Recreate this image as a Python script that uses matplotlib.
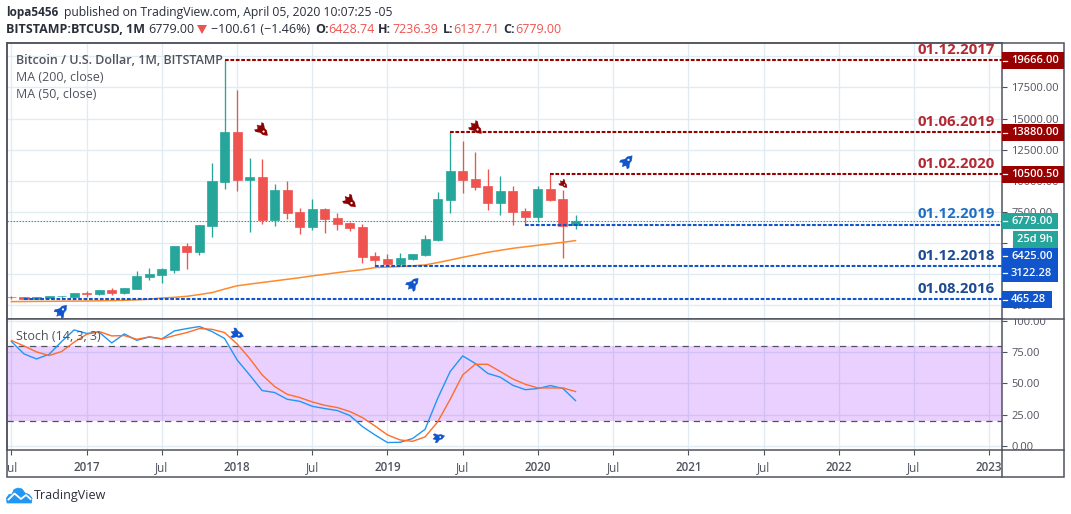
import numpy as np
import matplotlib
matplotlib.use("Agg")
import matplotlib.pyplot as plt
from matplotlib.patches import Rectangle, Polygon, Circle
from matplotlib.transforms import Affine2D, Bbox

plt.rcParams['font.family'] = ['Open Sans', 'DejaVu Sans']

# ---- data (monthly candles, Jul 2016 .. Apr 2020) ----
opens = [660, 640, 510, 610, 700, 640, 965, 870, 1190, 950, 1270, 2250, 2400, 2800, 4730, 4240, 6330, 9870,
         13880, 10030, 10270, 6820, 9230, 7460, 6250, 7700, 6980, 6580, 6250, 3920,
         3680, 3280, 3680, 4000, 5210, 8450, 10760, 10110, 9550, 8180, 9150, 7540,
         7060, 9310, 8500, 6428.74]
highs = [700, 660, 640, 770, 770, 950, 1110, 1190, 1350, 1350, 2720, 2960, 2960, 4730, 4970, 6410, 11400, 19666,
         17270, 11790, 11710, 9710, 9950, 7780, 8500, 7780, 7380, 6650, 6500, 4240,
         4080, 4160, 4080, 5610, 9060, 13880, 13170, 12300, 10920, 10350, 9550, 7780,
         9550, 10500, 9230, 7236.39]
lows = [500, 480, 480, 600, 590, 630, 640, 790, 795, 890, 1270, 1990, 1750, 2560, 2880, 3990, 5450, 9310,
        9150, 5850, 6500, 6330, 6900, 5690, 6010, 5770, 6010, 5930, 3360, 3122,
        3250, 3120, 3600, 3920, 5130, 7400, 9010, 9230, 7620, 7220, 6410, 6425,
        6650, 8340, 3790, 6137.71]
closes = [630, 510, 640, 770, 745, 950, 910, 1190, 950, 1350, 2320, 2470, 2880, 4730, 4245, 6410, 9950, 13880,
          10030, 10270, 6820, 9230, 7380, 6250, 7700, 6900, 6500, 6170, 3840, 3600,
          3280, 3760, 4080, 5290, 8500, 10760, 10060, 9470, 8180, 9150, 7460, 7060,
          9310, 8420, 6330, 6779.00]
ma_line = [280, 290, 297, 305, 314, 322, 330, 346, 362, 386, 426, 474, 571, 627, 708, 852, 1005, 1290,
           1552, 1688, 1817, 1946, 2074, 2203, 2348, 2476, 2613, 2734, 2854, 3015,
           3055, 3103, 3152, 3232, 3417, 3626, 3843, 4044, 4245, 4406, 4567, 4687,
           4808, 4928, 5049, 5186]
stoch_k = [83.5, 73.6, 69.6, 73.3, 83.5, 92.8, 90, 91, 82.4, 89.6, 84.5, 87.2, 85.6, 92, 93.9, 95.5, 91.5, 86,
           68.8, 56.8, 44.3, 42.7, 37.3, 35.7, 31.7, 29.9, 28.3, 24.3, 15.5, 8.8,
           2.7, 2.9, 5.9, 13.3, 38, 59.5, 72, 66, 58, 55, 48.5, 45,
           45.9, 48.3, 45.9, 36.3]
stoch_d = [84.3, 80, 75.2, 72.3, 75.5, 83, 89.3, 91.5, 88, 88.3, 85.3, 87.2, 85.6, 88.3, 90.7, 93.9, 93.3, 90.7,
           81.6, 70, 56.8, 47.5, 41.3, 38.7, 35.2, 32.5, 30.7, 27.5, 22.7, 16,
           8.8, 4.8, 3.7, 7.2, 19.2, 37.3, 56.8, 65.3, 65.3, 59.5, 53.6, 49.3,
           46.4, 46.4, 46.4, 43.5]

time_ticks = [0, 6, 12, 18, 24, 30, 36, 42, 48, 54, 60, 66, 72, 78]
time_labels = ['Jul', '2017', 'Jul', '2018', 'Jul', '2019', 'Jul', '2020', 'Jul', '2021', 'Jul', '2022', 'Jul', '2023']
price_ticks = [0, 2500, 5000, 7500, 10000, 12500, 15000, 17500, 20000]
price_labels = ['0.00', '2500.00', '5000.00', '7500.00', '10000.00', '12500.00', '15000.00', '17500.00', '']
stoch_ticks = [0, 25, 50, 75, 100]
stoch_labels = ['0.00', '25.00', '50.00', '75.00', '100.00']

# level lines: start month, price
red_levels = [(17, 19666.00), (35, 13880.00), (43, 10500.50)]
blue_levels = [(41, 6425.00), (29, 3122.28), (1, 465.28)]
last_price = 6779.00

# ---- layout ----
W, H = 1071, 514
L, R = 6.7, 1002.3
T1, B1, B2 = 43.3, 319.3, 450.3
FRAME_B, FRAME_R = 477, 1064.3

UP, DOWN = '#26A69A', '#EF5350'
GRID = '#E1ECF2'
AXC = '#50535E'
DRED = '#990000'
DBLUE = '#1155CC'
TICK_FS = 8.0


def axpos(l, t, r, b):
    return [l / W, 1 - b / H, (r - l) / W, (b - t) / H]


fig = plt.figure(figsize=(W / 100, H / 100), dpi=100, facecolor='white')
ax1 = fig.add_axes(axpos(L, T1, R, B1))
ax2 = fig.add_axes(axpos(L, B1, R, B2), sharex=ax1)

x_left, x_right = -0.38, 79.05

# ---- price pane ----
months = np.arange(len(opens))
for i in months:
    c = UP if closes[i] >= opens[i] else DOWN
    ax1.vlines(i, lows[i], highs[i], color=c, lw=0.95, zorder=3)
    ax1.bar(i, closes[i] - opens[i], bottom=opens[i], width=0.72, color=c, edgecolor=c, linewidth=0.5, zorder=4)
ax1.plot(months, ma_line, color='#FF8A2B', lw=1.1, zorder=5)
for start, lvl in red_levels:
    ax1.plot([start, x_right], [lvl, lvl], color=DRED, lw=1.5, ls=(0, (1.8, 0.8)), zorder=6)
for start, lvl in blue_levels:
    ax1.plot([start, x_right], [lvl, lvl], color=DBLUE, lw=1.5, ls=(0, (1.8, 0.8)), zorder=6)
ax1.plot([x_left, x_right], [last_price, last_price], color=UP, lw=0.8, ls=(0, (1.5, 1.2)), zorder=2)
ax1.set_ylim(-1141, 21045)
ax1.set_xlim(x_left, x_right)
ax1.set_yticks(price_ticks)
ax1.set_yticklabels(price_labels)

# ---- stochastic pane ----
ax2.axhspan(20, 80, color='#9915FF', alpha=0.2, lw=0, zorder=2)
ax2.plot([x_left, x_right], [80, 80], color=AXC, lw=0.9, ls=(0, (5, 4)), zorder=3)
ax2.plot([x_left, x_right], [20, 20], color=AXC, lw=0.9, ls=(0, (5, 4)), zorder=3)
ax2.plot(months, stoch_k, color='#2196F3', lw=1.0, zorder=4)
ax2.plot(months, stoch_d, color='#FF6D2A', lw=1.0, zorder=5)
ax2.set_ylim(-3.5, 101.3)
ax2.set_yticks(stoch_ticks)
ax2.set_yticklabels(stoch_labels)
ax2.set_xticks(time_ticks)
ax2.set_xticklabels(time_labels)

for ax in (ax1, ax2):
    ax.grid(True, color=GRID, lw=1.0, zorder=0)
    ax.set_axisbelow(True)
    ax.yaxis.tick_right()
    ax.tick_params(axis='y', colors=AXC, length=3.6, width=0.8, pad=2.8, labelsize=TICK_FS)
    for s in ax.spines.values():
        s.set_color(AXC)
        s.set_linewidth(1.1)
ax1.tick_params(axis='x', length=0, labelbottom=False)
ax2.tick_params(axis='x', colors=AXC, length=3.4, width=0.8, pad=4.5, labelsize=8.4)

for t, lab in zip(time_labels, ax2.get_xticklabels()):
    if t != 'Jul':
        lab.set_fontweight('semibold')
clip = Bbox([[L, H - FRAME_B], [R, H - B2]])
for lab in ax2.get_xticklabels():
    lab.set_clip_box(clip)
    lab.set_clip_on(True)
clip2 = Bbox([[R, H - B2], [FRAME_R, H - B1]])
for lab in ax2.get_yticklabels():
    lab.set_clip_box(clip2)
    lab.set_clip_on(True)

# ---- overlay in pixel coordinates for annotations ----
ov = fig.add_axes([0, 0, 1, 1], zorder=10)
ov.set_xlim(0, W)
ov.set_ylim(H, 0)
ov.axis('off')
ov.patch.set_alpha(0)

# outer frame
ov.add_patch(Rectangle((L, T1), FRAME_R - L, FRAME_B - T1, fill=False, ec=AXC, lw=1.1))
ov.plot([R, R], [B2, FRAME_B], color=AXC, lw=1.1)
ov.plot([R, FRAME_R], [B1, B1], color=AXC, lw=1.1)
ov.plot([R, FRAME_R], [B2, B2], color=AXC, lw=1.1)


def tag(x0, x1, y0, y1, color, text=None, tx=1011):
    ov.add_patch(Rectangle((x0, y0), x1 - x0, y1 - y0, fc=color, ec='none', zorder=3))
    if text:
        yc = (y0 + y1) / 2
        ov.text(tx, yc, text, color='white', fontsize=TICK_FS, fontweight='semibold', va='center', ha='left', zorder=4)


def tick(y):
    ov.plot([R + 0.5, R + 5], [y, y], color='white', lw=0.9, zorder=4)


tag(R, FRAME_R, 52, 69, DRED, '19666.00'); tick(60.5)
tag(R, FRAME_R, 124, 141, DRED, '13880.00'); tick(132.5)
tag(R, FRAME_R, 166, 182.7, DRED, '10500.50'); tick(174.4)
tag(R, 1057.7, 213, 229.3, UP, '6779.00'); tick(221)
tag(1013, 1057.7, 231, 247.7, UP, '25d 9h', tx=1017)
tag(R, 1057.7, 248, 282, DBLUE); tick(256); tick(273)
ov.text(1011, 256.3, '6425.00', color='white', fontsize=TICK_FS, fontweight='semibold', va='center', zorder=4)
ov.text(1011, 273.3, '3122.28', color='white', fontsize=TICK_FS, fontweight='semibold', va='center', zorder=4)
tag(R, 1052, 291, 307.7, DBLUE, '465.28'); tick(299.5)

# date captions
DATE_RED = '#B22833'
DATE_BLUE = '#1E6FC4'
DATE_NAVY = '#1C4B94'
for s, y, c in [('01.12.2017', 49.5, DATE_RED), ('01.06.2019', 121.7, DATE_RED), ('01.02.2020', 163.5, DATE_RED),
                ('01.12.2019', 214.5, DATE_BLUE), ('01.12.2018', 255.8, DATE_NAVY), ('01.08.2016', 288.8, DATE_NAVY)]:
    ov.text(995, y, s, color=c, fontsize=10.8, fontweight='bold', ha='right', va='center', zorder=2)

# legend texts
ov.text(15.5, 60.5, 'Bitcoin / U.S. Dollar, 1M, BITSTAMP', color=AXC, fontsize=9.0, fontweight='semibold', va='center')
ov.text(15.5, 77.5, 'MA (200, close)', color=AXC, fontsize=9.0, va='center')
ov.text(15.5, 95, 'MA (50, close)', color=AXC, fontsize=9.0, va='center')
ov.text(15.5, 336.5, 'Stoch (14, 3, 3)', color=AXC, fontsize=9.0, va='center')

# header
HC = '#2A2E39'
ov.text(6.5, 12.5, 'lopa5456', color=HC, fontsize=8.5, fontweight='bold', va='center')
ov.text(63.5, 12.5, 'published on TradingView.com, April 05, 2020 10:07:25 -05', color=HC, fontsize=8.7, va='center')
ov.text(6.5, 29.5, 'BITSTAMP:BTCUSD, 1M', color=HC, fontsize=9.0, fontweight='bold', va='center')
ov.text(148, 29.5, '6779.00', color=HC, fontsize=9.0, va='center')
ov.add_patch(Polygon([(197, 25), (207, 25), (202, 34)], fc=DOWN, ec='none'))
ov.text(211, 29.5, '\u2212100.61 (\u22121.46%)', color=HC, fontsize=9.0, va='center')
for k, kx, v, vx in [('O:', 315, '6428.74', 328), ('H:', 378, '7236.39', 392.7),
                     ('L:', 442.5, '6137.71', 453), ('C:', 503.5, '6779.00', 515)]:
    ov.text(kx, 29.5, k, color=HC, fontsize=9.0, fontweight='bold', va='center')
    ov.text(vx, 29.5, v, color=DOWN, fontsize=9.0, va='center')


# rocket icons
def rocket(cx, cy, angle, color, scale=1.0):
    body = [(0, -7), (2.6, -3.5), (2.8, 2), (1.6, 4), (-1.6, 4), (-2.8, 2), (-2.6, -3.5), (0, -7)]
    fin_l = [(-2.6, -0.5), (-5.2, 3), (-4.6, 5), (-1.8, 3)]
    fin_r = [(2.6, -0.5), (5.2, 3), (4.6, 5), (1.8, 3)]
    flame = [(-1.3, 4), (1.3, 4), (0, 6.5)]
    tr = Affine2D().scale(scale).rotate_deg(angle).translate(cx, cy) + ov.transData
    for pts in (body, fin_l, fin_r, flame):
        ov.add_patch(Polygon(pts, fc=color, ec=color, lw=0.3, transform=tr, zorder=5))
    ov.add_patch(Circle((0, -2), 1.0, fc='white', ec='none', transform=tr, zorder=6))


RB = '#1155CC'
for cx, cy in [(627, 161.5), (413, 284), (61.5, 311)]:
    rocket(cx, cy, 42, RB, 1.1)
rocket(237, 334, 110, RB, 1.0)
rocket(438.5, 437.5, 75, RB, 0.9)
for cx, cy, sc in [(262, 130, 1.1), (350, 201.5, 1.1), (476, 128, 1.1), (563.5, 184, 0.7)]:
    rocket(cx, cy, 135, '#8B0000', sc)

# logo
LOGO = '#2196F3'
ov.add_patch(Polygon([(7, 503), (6.5, 498), (9, 494.5), (12, 494), (14, 489.5), (18, 488), (22, 489), (25, 493),
                      (29, 494.5), (32, 498), (31.5, 503)], fc=LOGO, ec=LOGO, lw=0.5, closed=True, zorder=3))
ov.plot([8.5, 14.5, 21, 26, 30.5], [499.5, 493.5, 499, 495, 499], color='white', lw=1.3, zorder=4)
ov.text(34, 495.5, 'TradingView', color=HC, fontsize=9.0, va='center')

fig.savefig('out.png', dpi=100, facecolor='white')
